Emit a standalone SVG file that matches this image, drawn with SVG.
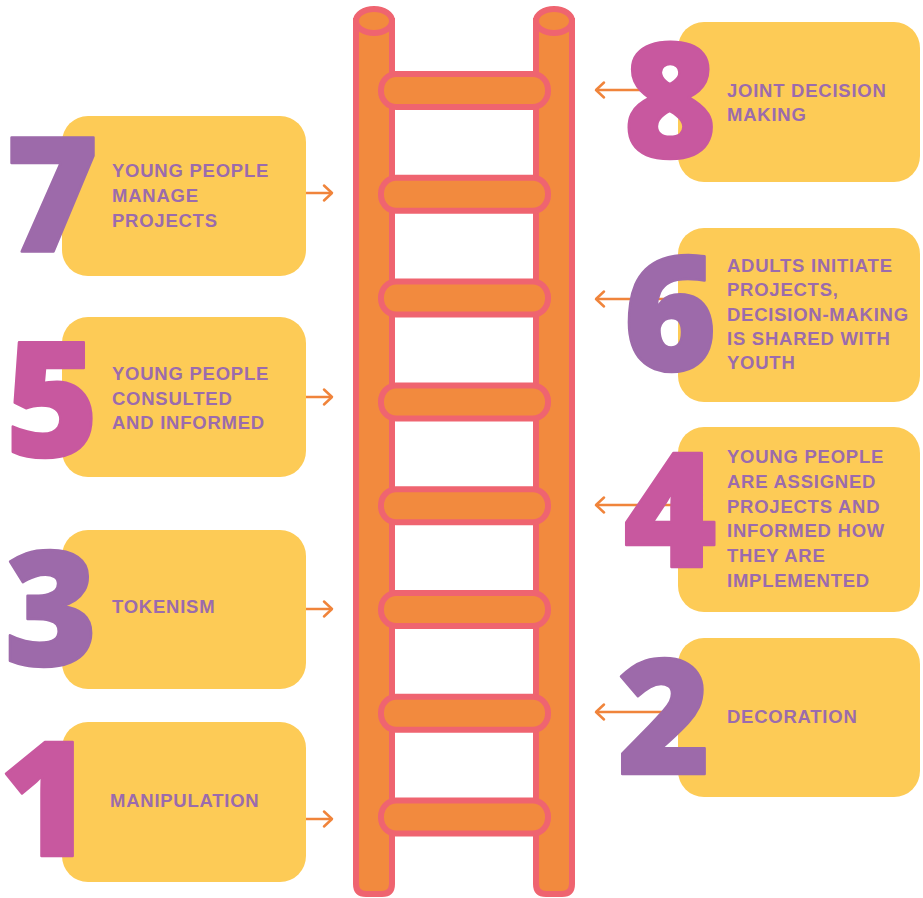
<svg xmlns="http://www.w3.org/2000/svg" width="923" height="898" viewBox="0 0 923 898">
<defs>
<style>
.box{fill:#FDCB56;}
.lbl{font-family:"Liberation Sans",Arial,sans-serif;font-weight:bold;font-size:18.5px;letter-spacing:0.75px;fill:#9B6BAD;}
.num{font-family:"Open Sans","Liberation Sans",sans-serif;font-weight:800;font-size:159px;text-anchor:middle;stroke-width:2.5;stroke-linejoin:round;}
.pur{fill:#9D6AAA;stroke:#9D6AAA;}
.pink{fill:#C8589F;stroke:#C8589F;}
.rail{fill:#F28A3E;stroke:#EF6470;stroke-width:6;}
.rung{fill:#F28A3E;stroke:#EF6470;stroke-width:6;}
.arr{fill:none;stroke:#F0843B;stroke-width:2.5;marker-end:url(#ah);}
</style>
<marker id="ah" markerUnits="userSpaceOnUse" viewBox="-10 -10 12 20" refX="0" refY="0" markerWidth="12" markerHeight="20" orient="auto">
<path d="M-8,-7.5 L0,0 L-8,7.5" fill="none" stroke="#F0843B" stroke-width="2.5" stroke-linecap="round" stroke-linejoin="round"/>
</marker>
</defs>
<g id="ladder">
<path class="rail" d="M356,21 V884 Q356,894 366,894 H382 Q392,894 392,884 V21 Z"/>
<ellipse class="rail" cx="374" cy="21" rx="18" ry="12"/>
<path class="rail" d="M536,21 V884 Q536,894 546,894 H562 Q572,894 572,884 V21 Z"/>
<ellipse class="rail" cx="554" cy="21" rx="18" ry="12"/>
<rect class="rung" x="381" y="74" width="167" height="33" rx="15" ry="16"/>
<rect class="rung" x="381" y="177.8" width="167" height="33" rx="15" ry="16"/>
<rect class="rung" x="381" y="281.6" width="167" height="33" rx="15" ry="16"/>
<rect class="rung" x="381" y="385.4" width="167" height="33" rx="15" ry="16"/>
<rect class="rung" x="381" y="489.2" width="167" height="33" rx="15" ry="16"/>
<rect class="rung" x="381" y="593" width="167" height="33" rx="15" ry="16"/>
<rect class="rung" x="381" y="696.8" width="167" height="33" rx="15" ry="16"/>
<rect class="rung" x="381" y="800.6" width="167" height="33" rx="15" ry="16"/>
</g>
<g id="connectors">
<path class="arr" d="M306,193 H332"/>
<path class="arr" d="M306,397 H332"/>
<path class="arr" d="M306,609 H332"/>
<path class="arr" d="M306,819 H332"/>
<path class="arr" d="M678,90 H596"/>
<path class="arr" d="M678,299 H596"/>
<path class="arr" d="M678,505 H596"/>
<path class="arr" d="M678,712 H596"/>
</g>
<g id="node7">
<rect class="box" x="62" y="116" width="244" height="160" rx="26"/>
<text class="num pur" x="52" y="252">7</text>
<text class="lbl"><tspan x="112" y="176.7">YOUNG PEOPLE</tspan><tspan x="112" y="201.7">MANAGE</tspan><tspan x="112" y="226.7">PROJECTS</tspan></text>
</g>
<g id="node5">
<rect class="box" x="62" y="317" width="244" height="160" rx="26"/>
<text class="num pink" x="52" y="456">5</text>
<text class="lbl"><tspan x="112" y="380">YOUNG PEOPLE</tspan><tspan x="112" y="404.5">CONSULTED</tspan><tspan x="112" y="429">AND INFORMED</tspan></text>
</g>
<g id="node3">
<rect class="box" x="62" y="530" width="244" height="159" rx="26"/>
<text class="num pur" x="51" y="665">3</text>
<text class="lbl" x="112" y="612.7">TOKENISM</text>
</g>
<g id="node1">
<rect class="box" x="62" y="722" width="244" height="160" rx="26"/>
<text class="num pink" x="46" y="856">1</text>
<text class="lbl" x="110" y="807.3">MANIPULATION</text>
</g>
<g id="node8">
<rect class="box" x="678" y="22" width="242" height="160" rx="26"/>
<text class="num pink" x="670" y="157">8</text>
<text class="lbl"><tspan x="727" y="96.7">JOINT DECISION</tspan><tspan x="727" y="121">MAKING</tspan></text>
</g>
<g id="node6">
<rect class="box" x="678" y="228" width="242" height="174" rx="26"/>
<text class="num pur" x="670" y="370">6</text>
<text class="lbl"><tspan x="727" y="271.7">ADULTS INITIATE</tspan><tspan x="727" y="296">PROJECTS,</tspan><tspan x="727" y="320.7">DECISION-MAKING</tspan><tspan x="727" y="345">IS SHARED WITH</tspan><tspan x="727" y="369.3">YOUTH</tspan></text>
</g>
<g id="node4">
<rect class="box" x="678" y="427" width="242" height="185" rx="26"/>
<text class="num pink" x="670" y="567">4</text>
<text class="lbl"><tspan x="727" y="463.3">YOUNG PEOPLE</tspan><tspan x="727" y="488.3">ARE ASSIGNED</tspan><tspan x="727" y="512.7">PROJECTS AND</tspan><tspan x="727" y="537.3">INFORMED HOW</tspan><tspan x="727" y="561.7">THEY ARE</tspan><tspan x="727" y="586.7">IMPLEMENTED</tspan></text>
</g>
<g id="node2">
<rect class="box" x="678" y="638" width="242" height="159" rx="26"/>
<text class="num pur" x="664" y="774">2</text>
<text class="lbl" x="727" y="722.7">DECORATION</text>
</g>
</svg>
